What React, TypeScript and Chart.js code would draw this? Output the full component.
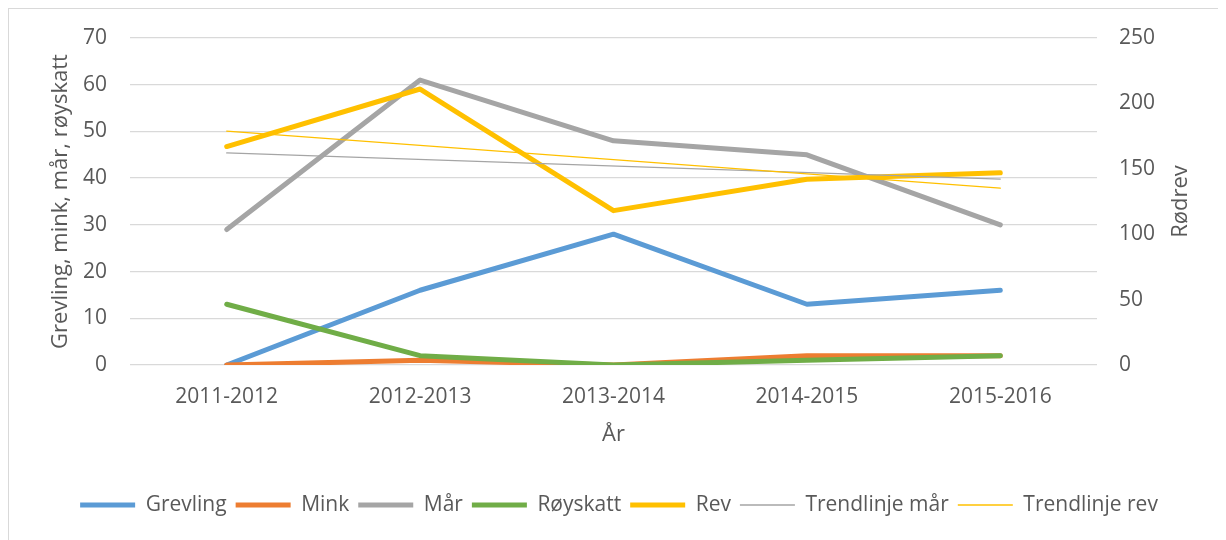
import React, { useEffect, useRef } from "react";
import { Chart, registerables } from "chart.js";

Chart.register(...registerables);

const categories = ["2011-2012", "2012-2013", "2013-2014", "2014-2015", "2015-2016"];
const grevling = [0, 16, 28, 13, 16];
const mink = [0, 1, 0, 2, 2];
const maar = [29, 61, 48, 45, 30];
const royskatt = [13, 2, 0, 1, 2];
const rev = [167, 211, 118, 142, 147];
const trendMaar = [45.4, null, null, null, 39.8];
const trendRev = [178.8, null, null, null, 135.2];

const leftTicks = [0, 10, 20, 30, 40, 50, 60, 70];
const rightTicks = [0, 50, 100, 150, 200, 250];

const FONT = "'Open Sans', 'Noto Sans', sans-serif";
const TEXT = "#595959";
const GRID = "#D9D9D9";

const rightTitlePlugin = {
  id: "rightTitle",
  afterDraw(chart: any) {
    const ctx = chart.ctx;
    const area = chart.chartArea;
    ctx.save();
    ctx.translate(1172, (area.top + area.bottom) / 2);
    ctx.rotate(-Math.PI / 2);
    ctx.font = `22px ${FONT}`;
    ctx.fillStyle = TEXT;
    ctx.textAlign = "center";
    ctx.textBaseline = "middle";
    ctx.fillText("Rødrev", 0, 0);
    ctx.restore();
  },
};

export default function App() {
  const ref = useRef<HTMLCanvasElement>(null);

  useEffect(() => {
    document.body.style.overflow = "hidden";
    document.documentElement.style.overflow = "hidden";
    const line = (label: string, data: any[], color: string, width: number, order: number, axis = "y", span = false) => ({
      label,
      data,
      borderColor: color,
      backgroundColor: color,
      borderWidth: width,
      borderCapStyle: "round",
      borderJoinStyle: "round",
      pointRadius: 0,
      pointHoverRadius: 0,
      tension: 0,
      fill: false,
      spanGaps: span,
      yAxisID: axis,
      order,
    });
    const chart = new Chart(ref.current!, {
      type: "line",
      data: {
        labels: categories,
        datasets: [
          line("Grevling", grevling, "#5B9BD5", 5, 6),
          line("Mink", mink, "#ED7D31", 5, 5),
          line("Mår", maar, "#A5A5A5", 5, 4),
          line("Røyskatt", royskatt, "#70AD47", 5, 3),
          line("Rev", rev, "#FFC000", 5, 2, "y1"),
          line("Trendlinje mår", trendMaar, "#A5A5A5", 1.3, 1, "y", true),
          line("Trendlinje rev", trendRev, "#FFC000", 1.3, 0, "y1", true),
        ] as any,
      },
      options: {
        animation: false,
        responsive: false,
        events: [],
        layout: { padding: { top: 29, bottom: 15.5, left: 0, right: 0 } },
        plugins: {
          tooltip: { enabled: false },
          legend: {
            position: "bottom",
            labels: {
              usePointStyle: true,
              pointStyle: "line",
              pointStyleWidth: 55,
              padding: 9,
              color: TEXT,
              font: { family: FONT, size: 21 },
              sort: (a: any, b: any) => a.datasetIndex - b.datasetIndex,
            },
          },
        },
        scales: {
          x: {
            offset: true,
            grid: { display: false, drawTicks: false, offset: true },
            border: { display: false },
            ticks: { color: TEXT, font: { family: FONT, size: 21 }, padding: 19, maxRotation: 0 },
            title: {
              display: true,
              text: "År",
              color: TEXT,
              font: { family: FONT, size: 22 },
              padding: { top: 0, bottom: 38 },
            },
            afterFit: (s: any) => {
              s.height = 120.5;
              s.paddingLeft = 0;
              s.paddingRight = 0;
            },
          },
          y: {
            position: "left",
            min: 0,
            max: 70,
            afterBuildTicks: (s: any) => {
              s.ticks = leftTicks.map((v) => ({ value: v }));
            },
            grid: { color: GRID, lineWidth: 1.3, drawTicks: false },
            border: { display: false },
            ticks: { color: TEXT, font: { family: FONT, size: 21 }, padding: 23 },
            title: {
              display: true,
              text: "Grevling, mink, mår, røyskatt",
              color: TEXT,
              font: { family: FONT, size: 22 },
              padding: { top: 39, bottom: 0 },
            },
            afterFit: (s: any) => {
              s.width = 121;
              s.paddingTop = 0;
              s.paddingBottom = 0;
            },
          },
          y1: {
            position: "right",
            min: 0,
            max: 250,
            afterBuildTicks: (s: any) => {
              s.ticks = rightTicks.map((v) => ({ value: v }));
            },
            grid: { display: false, drawTicks: false },
            border: { display: false },
            ticks: { color: TEXT, font: { family: FONT, size: 21 }, padding: 22 },
            afterFit: (s: any) => {
              s.width = 132;
              s.paddingTop = 0;
              s.paddingBottom = 0;
            },
          },
        },
      } as any,
      plugins: [rightTitlePlugin],
    });
    return () => chart.destroy();
  }, []);

  return (
    <div style={{ width: 1220, height: 532, border: "1px solid #D9D9D9", background: "#fff" }}>
      <canvas ref={ref} width={1220} height={532} style={{ display: "block", width: 1220, height: 532 }} />
    </div>
  );
}
